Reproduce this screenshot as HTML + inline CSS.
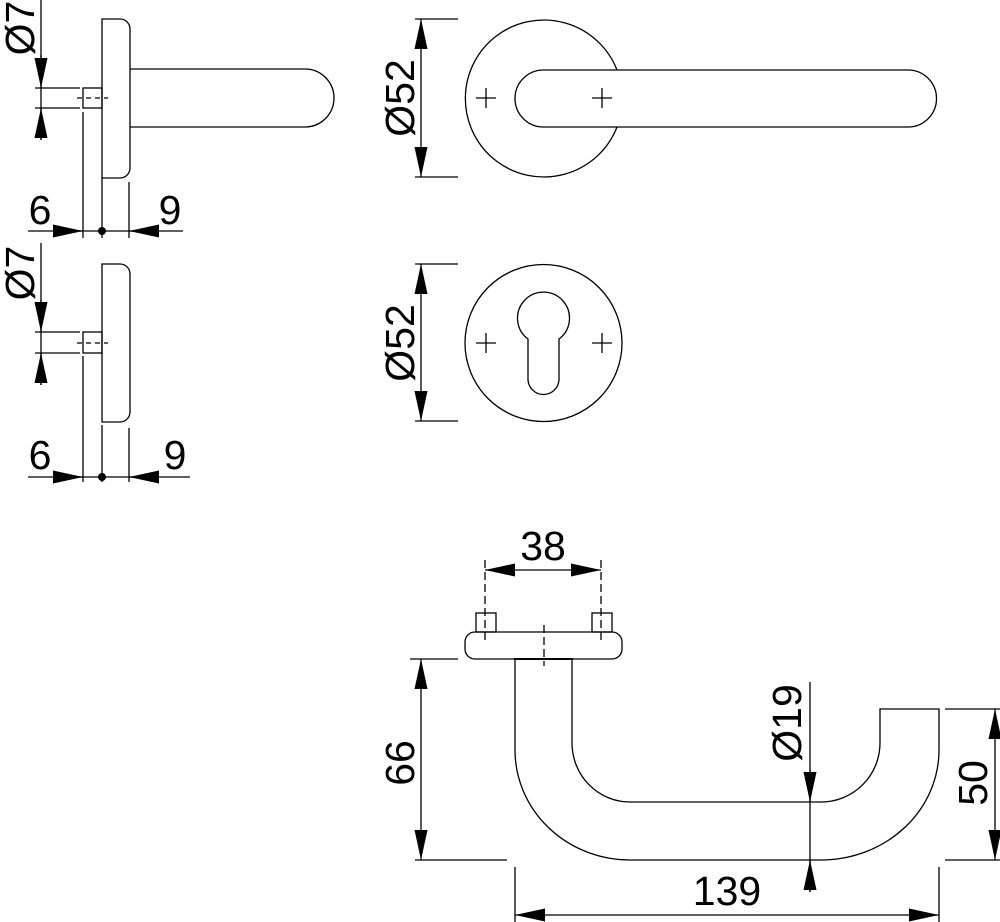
<!DOCTYPE html>
<html><head><style>html,body{margin:0;padding:0;background:#fff}svg{display:block}</style></head>
<body>
<svg width="1000" height="922" viewBox="0 0 1000 922" xmlns="http://www.w3.org/2000/svg" font-family="Liberation Sans, sans-serif" font-size="41">
<defs>
<marker id="a" viewBox="0 0 30 13" refX="30" refY="6.5" markerWidth="30" markerHeight="13" markerUnits="userSpaceOnUse" orient="auto-start-reverse"><path d="M0,0 L30,6.5 L0,13 z" fill="#000"/></marker>
</defs>
<g fill="none" stroke="#000" stroke-width="1.3">
<path d="M102,19 H120 A10,10 0 0 1 130,29 V168 A10,10 0 0 1 120,178 H102 Z"/>
<path d="M130,69 H305 A29,29 0 0 1 305,127 H130"/>
<rect x="83" y="88" width="19" height="20"/>
<line x1="77" y1="98" x2="108" y2="98" stroke-dasharray="5,4"/>
<line x1="35" y1="88" x2="80" y2="88"/><line x1="35" y1="108" x2="80" y2="108"/>
<line x1="41" y1="0" x2="41" y2="140"/>
<line x1="83" y1="112" x2="83" y2="238"/><line x1="102" y1="178" x2="102" y2="238"/><line x1="129" y1="182" x2="129" y2="238"/>
<line x1="28" y1="231" x2="183" y2="231"/>
<path d="M102,264 H120 A10,10 0 0 1 130,274 V412 A10,10 0 0 1 120,422 H102 Z"/>
<rect x="83" y="332" width="19" height="21"/>
<line x1="77" y1="343" x2="108" y2="343" stroke-dasharray="5,4"/>
<line x1="35" y1="332" x2="80" y2="332"/><line x1="35" y1="353" x2="80" y2="353"/>
<line x1="41" y1="243" x2="41" y2="385"/>
<line x1="83" y1="356" x2="83" y2="482"/><line x1="102" y1="425" x2="102" y2="482"/><line x1="129" y1="428" x2="129" y2="482"/>
<line x1="28" y1="477" x2="190" y2="477"/>
<path d="M617,70 A78.5,78.5 0 1 0 617,127"/>
<path d="M617,70 H908 A28.5,28.5 0 0 1 908,127 H543.5 A28.5,28.5 0 0 1 543.5,70 H617"/>
<line x1="476" y1="98" x2="496" y2="98"/><line x1="486" y1="88" x2="486" y2="108"/>
<line x1="592" y1="98" x2="612" y2="98"/><line x1="602" y1="88" x2="602" y2="108"/>
<line x1="415" y1="19" x2="458" y2="19"/><line x1="415" y1="177" x2="458" y2="177"/>
<circle cx="543.5" cy="343" r="78.5"/>
<path d="M528,339 A26,26 0 1 1 559,339 V379 A15.5,15.5 0 0 1 528,379 Z"/>
<line x1="476" y1="343" x2="496" y2="343"/><line x1="486" y1="333" x2="486" y2="353"/>
<line x1="592" y1="343" x2="612" y2="343"/><line x1="602" y1="333" x2="602" y2="353"/>
<line x1="415" y1="264" x2="458" y2="264"/><line x1="415" y1="421" x2="458" y2="421"/>
<path d="M475,632 H612 A10,10 0 0 1 622,642 V649 A10,10 0 0 1 612,659 H475 A10,10 0 0 1 465,649 V642 A10,10 0 0 1 475,632 Z"/>
<rect x="476" y="613" width="20" height="19"/><rect x="592" y="613" width="20" height="19"/>
<line x1="485" y1="560" x2="485" y2="640" stroke-dasharray="8,4"/>
<line x1="601" y1="560" x2="601" y2="640" stroke-dasharray="8,4"/>
<line x1="544" y1="625" x2="544" y2="666" stroke-dasharray="8,4"/>
<line x1="514" y1="659" x2="573" y2="659" stroke-width="2"/>
<path d="M515,659 V750 A115,110 0 0 0 630,860 H821 A118,110 0 0 0 939,750 V709 H880 V743 A59,59 0 0 1 821,802 H630 A58,59 0 0 1 572,743 V659"/>
<line x1="410" y1="659" x2="458" y2="659"/><line x1="415" y1="860" x2="507" y2="860"/>
<line x1="945" y1="709" x2="1000" y2="709"/><line x1="945" y1="860" x2="1000" y2="860"/>
<line x1="515" y1="867" x2="515" y2="922"/><line x1="939" y1="867" x2="939" y2="922"/>
<line x1="810" y1="682" x2="810" y2="892"/>
</g>
<g stroke="#000" stroke-width="1.3" fill="none">
<line x1="41" y1="55" x2="41" y2="88" marker-end="url(#a)"/>
<line x1="41" y1="140" x2="41" y2="108" marker-end="url(#a)"/>
<line x1="53" y1="231" x2="83" y2="231" marker-end="url(#a)"/>
<line x1="159" y1="231" x2="129" y2="231" marker-end="url(#a)"/>
<line x1="41" y1="300" x2="41" y2="332" marker-end="url(#a)"/>
<line x1="41" y1="385" x2="41" y2="353" marker-end="url(#a)"/>
<line x1="53" y1="477" x2="83" y2="477" marker-end="url(#a)"/>
<line x1="159" y1="477" x2="129" y2="477" marker-end="url(#a)"/>
<line x1="421" y1="19" x2="421" y2="177" marker-start="url(#a)" marker-end="url(#a)"/>
<line x1="421" y1="264" x2="421" y2="421" marker-start="url(#a)" marker-end="url(#a)"/>
<line x1="421" y1="659" x2="421" y2="860" marker-start="url(#a)" marker-end="url(#a)"/>
<line x1="995" y1="709" x2="995" y2="860" marker-start="url(#a)" marker-end="url(#a)"/>
<line x1="515" y1="915" x2="939" y2="915" marker-start="url(#a)" marker-end="url(#a)"/>
<line x1="485" y1="570" x2="601" y2="570" marker-start="url(#a)" marker-end="url(#a)"/>
<line x1="810" y1="770" x2="810" y2="802" marker-end="url(#a)"/>
<line x1="810" y1="892" x2="810" y2="860" marker-end="url(#a)"/>
</g>
<circle cx="102" cy="231" r="4"/><circle cx="102" cy="477" r="4"/>
<g fill="#000">
<text x="40" y="224" text-anchor="middle">6</text>
<text x="170" y="224" text-anchor="middle">9</text>
<text x="40" y="469" text-anchor="middle">6</text>
<text x="175" y="469" text-anchor="middle">9</text>
<text transform="translate(34,28) rotate(-90)" text-anchor="middle">Ø7</text>
<text transform="translate(34,273) rotate(-90)" text-anchor="middle">Ø7</text>
<text transform="translate(414,98) rotate(-90)" text-anchor="middle">Ø52</text>
<text transform="translate(414,343) rotate(-90)" text-anchor="middle">Ø52</text>
<text transform="translate(414,763) rotate(-90)" text-anchor="middle">66</text>
<text transform="translate(987,783) rotate(-90)" text-anchor="middle">50</text>
<text transform="translate(801,723) rotate(-90)" text-anchor="middle">Ø19</text>
<text x="727" y="905" text-anchor="middle">139</text>
<text x="543" y="560" text-anchor="middle">38</text>
</g>
</svg>
</body></html>
